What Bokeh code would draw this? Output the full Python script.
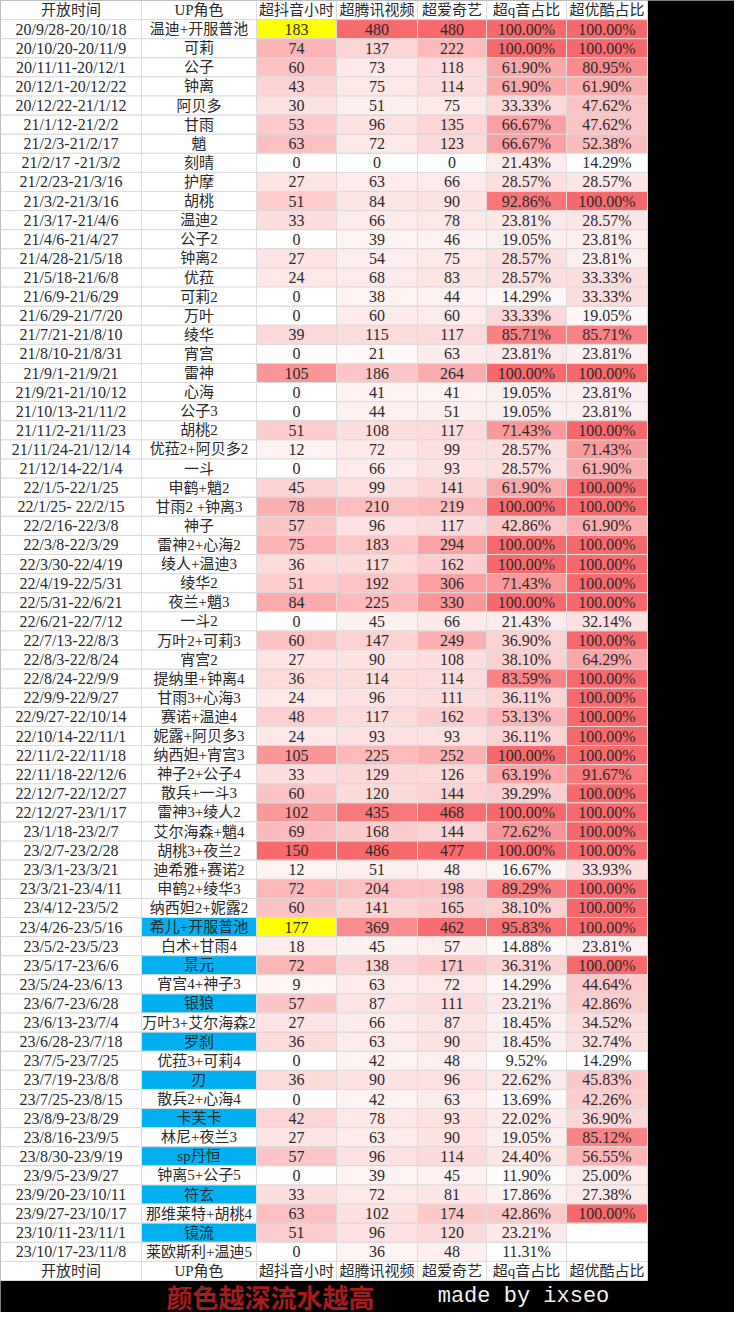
from bokeh.plotting import figure
from bokeh.models import ColumnDataSource, Range1d
from bokeh.core.properties import value
from bokeh.embed import file_html
from bokeh.resources import INLINE

headers = ["开放时间", "UP角色", "超抖音小时", "超腾讯视频", "超爱奇艺", "超q音占比", "超优酷占比"]

dates = ["20/9/28-20/10/18", "20/10/20-20/11/9", "20/11/11-20/12/1", "20/12/1-20/12/22", "20/12/22-21/1/12",
         "21/1/12-21/2/2", "21/2/3-21/2/17", "21/2/17 -21/3/2", "21/2/23-21/3/16", "21/3/2-21/3/16",
         "21/3/17-21/4/6", "21/4/6-21/4/27", "21/4/28-21/5/18", "21/5/18-21/6/8", "21/6/9-21/6/29",
         "21/6/29-21/7/20", "21/7/21-21/8/10", "21/8/10-21/8/31", "21/9/1-21/9/21", "21/9/21-21/10/12",
         "21/10/13-21/11/2", "21/11/2-21/11/23", "21/11/24-21/12/14", "21/12/14-22/1/4", "22/1/5-22/1/25",
         "22/1/25- 22/2/15", "22/2/16-22/3/8", "22/3/8-22/3/29", "22/3/30-22/4/19", "22/4/19-22/5/31",
         "22/5/31-22/6/21", "22/6/21-22/7/12", "22/7/13-22/8/3", "22/8/3-22/8/24", "22/8/24-22/9/9",
         "22/9/9-22/9/27", "22/9/27-22/10/14", "22/10/14-22/11/1", "22/11/2-22/11/18", "22/11/18-22/12/6",
         "22/12/7-22/12/27", "22/12/27-23/1/17", "23/1/18-23/2/7", "23/2/7-23/2/28", "23/3/1-23/3/21",
         "23/3/21-23/4/11", "23/4/12-23/5/2", "23/4/26-23/5/16", "23/5/2-23/5/23", "23/5/17-23/6/6",
         "23/5/24-23/6/13", "23/6/7-23/6/28", "23/6/13-23/7/4", "23/6/28-23/7/18", "23/7/5-23/7/25",
         "23/7/19-23/8/8", "23/7/25-23/8/15", "23/8/9-23/8/29", "23/8/16-23/9/5", "23/8/30-23/9/19",
         "23/9/5-23/9/27", "23/9/20-23/10/11", "23/9/27-23/10/17", "23/10/11-23/11/1", "23/10/17-23/11/8"]

roles = ["温迪+开服普池", "可莉", "公子", "钟离", "阿贝多", "甘雨", "魈", "刻晴", "护摩", "胡桃",
         "温迪2", "公子2", "钟离2", "优菈", "可莉2", "万叶", "绫华", "宵宫", "雷神", "心海",
         "公子3", "胡桃2", "优菈2+阿贝多2", "一斗", "申鹤+魈2", "甘雨2 +钟离3", "神子", "雷神2+心海2",
         "绫人+温迪3", "绫华2", "夜兰+魈3", "一斗2", "万叶2+可莉3", "宵宫2", "提纳里+钟离4",
         "甘雨3+心海3", "赛诺+温迪4", "妮露+阿贝多3", "纳西妲+宵宫3", "神子2+公子4", "散兵+一斗3",
         "雷神3+绫人2", "艾尔海森+魈4", "胡桃3+夜兰2", "迪希雅+赛诺2", "申鹤2+绫华3", "纳西妲2+妮露2",
         "希儿+开服普池", "白术+甘雨4", "景元", "宵宫4+神子3", "银狼", "万叶3+艾尔海森2", "罗刹",
         "优菈3+可莉4", "刃", "散兵2+心海4", "卡芙卡", "林尼+夜兰3", "sp丹恒", "钟离5+公子5", "符玄",
         "那维莱特+胡桃4", "镜流", "莱欧斯利+温迪5"]

douyin = [183, 74, 60, 43, 30, 53, 63, 0, 27, 51, 33, 0, 27, 24, 0, 0, 39, 0, 105, 0,
          0, 51, 12, 0, 45, 78, 57, 75, 36, 51, 84, 0, 60, 27, 36, 24, 48, 24, 105, 33,
          60, 102, 69, 150, 12, 72, 60, 177, 18, 72, 9, 57, 27, 36, 0, 36, 0, 42, 27, 57,
          0, 33, 63, 51, 0]

tencent = [480, 137, 73, 75, 51, 96, 72, 0, 63, 84, 66, 39, 54, 68, 38, 60, 115, 21, 186, 41,
           44, 108, 72, 66, 99, 210, 96, 183, 117, 192, 225, 45, 147, 90, 114, 96, 117, 93, 225, 129,
           120, 435, 168, 486, 51, 204, 141, 369, 45, 138, 63, 87, 66, 63, 42, 90, 42, 78, 63, 96,
           39, 72, 102, 96, 36]

iqiyi = [480, 222, 118, 114, 75, 135, 123, 0, 66, 90, 78, 46, 75, 83, 44, 60, 117, 63, 264, 41,
         51, 117, 99, 93, 141, 219, 117, 294, 162, 306, 330, 66, 249, 108, 114, 111, 162, 93, 252, 126,
         144, 468, 144, 477, 48, 198, 165, 462, 57, 171, 72, 111, 87, 90, 48, 96, 63, 93, 90, 114,
         45, 81, 174, 120, 48]

qq_pct = [100.00, 100.00, 61.90, 61.90, 33.33, 66.67, 66.67, 21.43, 28.57, 92.86,
          23.81, 19.05, 28.57, 28.57, 14.29, 33.33, 85.71, 23.81, 100.00, 19.05,
          19.05, 71.43, 28.57, 28.57, 61.90, 100.00, 42.86, 100.00, 100.00, 71.43,
          100.00, 21.43, 36.90, 38.10, 83.59, 36.11, 53.13, 36.11, 100.00, 63.19,
          39.29, 100.00, 72.62, 100.00, 16.67, 89.29, 38.10, 95.83, 14.88, 36.31,
          14.29, 23.21, 18.45, 18.45, 9.52, 22.62, 13.69, 22.02, 19.05, 24.40,
          11.90, 17.86, 42.86, 23.21, 11.31]

youku_pct = [100.00, 100.00, 80.95, 61.90, 47.62, 47.62, 52.38, 14.29, 28.57, 100.00,
             28.57, 23.81, 23.81, 33.33, 33.33, 19.05, 85.71, 23.81, 100.00, 23.81,
             23.81, 100.00, 71.43, 61.90, 100.00, 100.00, 61.90, 100.00, 100.00, 100.00,
             100.00, 32.14, 100.00, 64.29, 100.00, 100.00, 100.00, 100.00, 100.00, 91.67,
             100.00, 100.00, 100.00, 100.00, 33.93, 100.00, 100.00, 100.00, 23.81, 100.00,
             44.64, 42.86, 34.52, 32.74, 14.29, 45.83, 42.26, 36.90, 85.12, 56.55,
             25.00, 27.38, 100.00, None, None]

yellow_douyin_rows = [0, 47]
blue_roles = ["希儿+开服普池", "景元", "银狼", "罗刹", "刃", "卡芙卡", "sp丹恒", "符玄", "镜流"]

note_text = "颜色越深流水越高"
credit_text = "made by ixseo"

# ---------------- layout ----------------
W, H = 734, 1312
col_edges = [0, 141, 256, 336, 417, 486, 566, 647]
n_rows = len(dates) + 2
table_h = 1280
row_h = table_h / n_rows

LO = (255, 255, 255)
HI = (248, 105, 107)


def heat(v, lo, hi):
    if v is None:
        return "#ffffff"
    t = 0.0 if hi == lo else max(0.0, min(1.0, (v - lo) / (hi - lo)))
    c = [round(a + (b - a) * t) for a, b in zip(LO, HI)]
    return "#%02x%02x%02x" % tuple(c)


def scale(vals, exclude=()):
    vv = [v for i, v in enumerate(vals) if v is not None and i not in exclude]
    return min(vv), max(vv)


numeric_cols = [douyin, tencent, iqiyi, qq_pct, youku_pct]
ranges = [scale(douyin, yellow_douyin_rows), scale(tencent), scale(iqiyi), scale(qq_pct), scale(youku_pct)]

cells = dict(left=[], right=[], top=[], bottom=[], fill=[])
txt_num = dict(x=[], y=[], t=[])
txt_cjk = dict(x=[], y=[], t=[])


def add_cell(r, c, fill):
    cells["left"].append(col_edges[c])
    cells["right"].append(col_edges[c + 1])
    cells["top"].append(r * row_h)
    cells["bottom"].append((r + 1) * row_h)
    cells["fill"].append(fill)


def cx(c):
    return (col_edges[c] + col_edges[c + 1]) / 2


def cy(r):
    return (r + 0.5) * row_h


# header rows (top and bottom)
for r in (0, n_rows - 1):
    for c, h in enumerate(headers):
        add_cell(r, c, "#ffffff")
        txt_cjk["x"].append(cx(c)); txt_cjk["y"].append(cy(r)); txt_cjk["t"].append(h)

for i in range(len(dates)):
    r = i + 1
    add_cell(r, 0, "#ffffff")
    txt_num["x"].append(cx(0)); txt_num["y"].append(cy(r)); txt_num["t"].append(dates[i])
    add_cell(r, 1, "#00b0f0" if roles[i] in blue_roles else "#ffffff")
    txt_cjk["x"].append(cx(1)); txt_cjk["y"].append(cy(r)); txt_cjk["t"].append(roles[i])
    for k, col in enumerate(numeric_cols):
        c = k + 2
        v = col[i]
        if k == 0 and i in yellow_douyin_rows:
            fill = "#ffff00"
        else:
            fill = heat(v, *ranges[k])
        add_cell(r, c, fill)
        if v is None:
            s = ""
        elif k >= 3:
            s = "%.2f%%" % v
        else:
            s = str(v)
        txt_num["x"].append(cx(c)); txt_num["y"].append(cy(r)); txt_num["t"].append(s)

p = figure(width=W, height=H, output_backend="svg", toolbar_location=None,
           x_range=Range1d(0, W), y_range=Range1d(H, 0), min_border=0)
p.axis.visible = False
p.grid.visible = False
p.outline_line_color = None
p.background_fill_color = "black"
p.border_fill_color = "black"

p.quad(left="left", right="right", top="top", bottom="bottom", fill_color="fill",
       line_color="#dcdcdc", line_width=1, source=ColumnDataSource(cells))

font = value("'Liberation Serif', 'Noto Sans CJK SC'")
p.text(x="x", y="y", text="t", source=ColumnDataSource(txt_num), text_align="center",
       text_baseline="middle", text_font=font, text_font_size="16px", text_color="#2a2a2a")
p.text(x="x", y="y", text="t", source=ColumnDataSource(txt_cjk), text_align="center",
       text_baseline="middle", text_font=font, text_font_size="15px", text_color="#2a2a2a")

band_y = (table_h + H) / 2
p.text(x=[270], y=[band_y], text=[note_text], text_align="center", text_baseline="middle",
       text_font=value("Noto Sans CJK SC"), text_font_size="26px", text_color="#a51c1c",
       text_font_style="bold")
p.text(x=[523], y=[band_y], text=[credit_text], text_align="center", text_baseline="middle",
       text_font=value("Liberation Mono"), text_font_size="22px", text_color="#f0f0f0")

open("out.html", "w").write(file_html(p, INLINE))
